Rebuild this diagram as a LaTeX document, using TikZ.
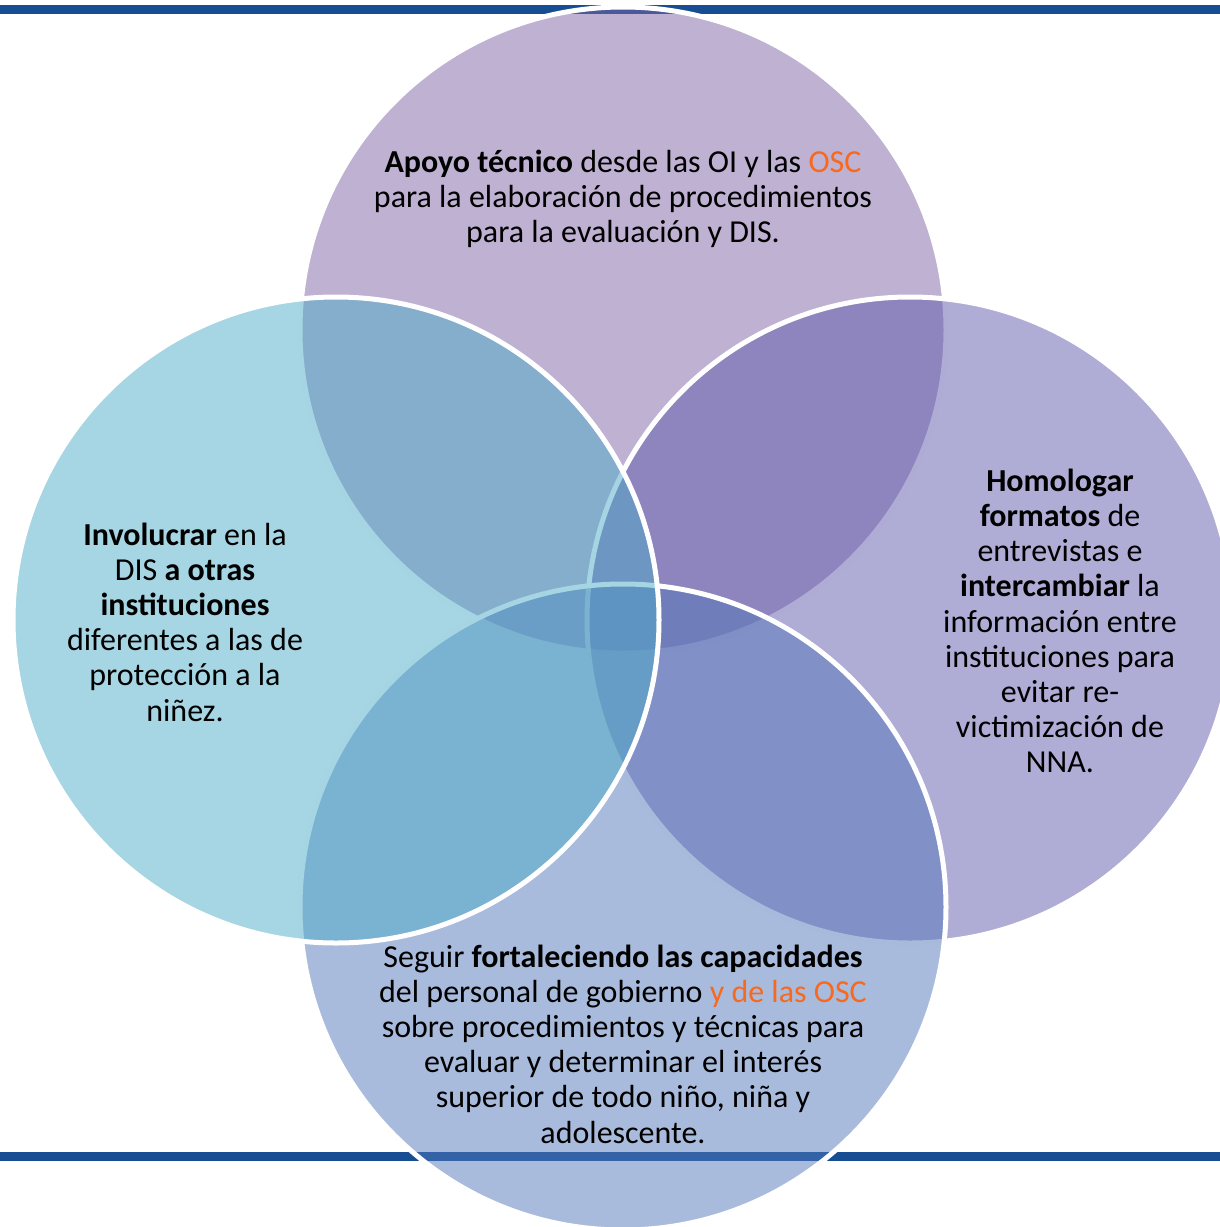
\documentclass[tikz,border=0pt]{standalone}
\usepackage{fontspec}
\setmainfont{Carlito}
\definecolor{barblue}{RGB}{22,77,147}
\definecolor{topc}{RGB}{127,99,165}
\definecolor{rightc}{RGB}{95,89,171}
\definecolor{botc}{RGB}{83,119,185}
\definecolor{leftc}{RGB}{77,171,199}
\definecolor{osc}{RGB}{247,105,30}
\tikzset{
  venn/.style={circle,minimum size=646pt,inner sep=0pt,fill opacity=0.5,draw=white,line width=5pt},
  bar/.style={barblue,line width=9pt},
  label/.style={align=center,text=black,font=\fontsize{32}{35.2}\selectfont}
}
\begin{document}
\begin{tikzpicture}
  [x=1pt,y=-1pt]
  \useasboundingbox (0,0) rectangle (1220,1227);
  \clip (0,0) rectangle (1220,1227);
  \draw[bar] (0,9) -- (1220,9);
  \draw[bar] (0,1156.5) -- (1220,1156.5);

  \foreach \name/\pos/\col in {ctop/{623,330}/topc,cright/{910,620}/rightc,cbot/{623,907}/botc,cleft/{336,620}/leftc}
    \node[venn,fill=\col] (\name) at (\pos) {};

  \node[label] (ttop) at (623,199) {\textbf{Apoyo técnico} desde las OI y las \textcolor{osc}{OSC}\\
    para la elaboración de procedimientos\\para la evaluación y DIS.};
  \node[label] (tleft) at (185,622) {\textbf{Involucrar} en la\\DIS \textbf{a otras}\\\textbf{instituciones}\\
    diferentes a las de\\protección a la\\niñez.};
  \node[label] (tright) at (1060,621) {\textbf{Homologar}\\\textbf{formatos} de\\entrevistas e\\
    \textbf{intercambiar} la\\información entre\\instituciones para\\evitar re-\\victimización de\\NNA.};
  \node[label] (tbot) at (623,1044) {Seguir \textbf{fortaleciendo las capacidades}\\
    del personal de gobierno \textcolor{osc}{y de las OSC}\\sobre procedimientos y técnicas para\\
    evaluar y determinar el interés\\superior de todo niño, niña y\\adolescente.};

\end{tikzpicture}
\end{document}
